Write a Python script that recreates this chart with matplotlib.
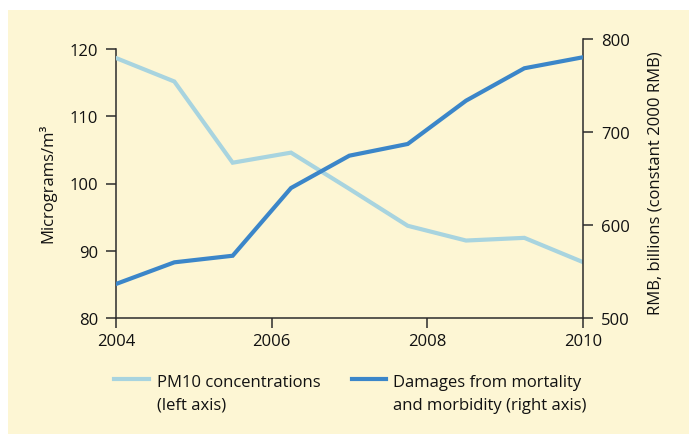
import matplotlib
matplotlib.use("Agg")
import matplotlib.pyplot as plt
from matplotlib.lines import Line2D
from matplotlib.patches import Rectangle

# Data
years = [2004.0, 2004.75, 2005.5, 2006.25, 2007.0, 2007.75, 2008.5, 2009.25, 2010.0]
pm10 = [118.7, 115.2, 103.1, 104.6, 99.2, 93.7, 91.5, 91.9, 88.3]
damages = [536.3, 559.6, 566.7, 639.6, 674.4, 687.0, 733.6, 768.5, 780.3]
x_ticks = [2004, 2006, 2008, 2010]
left_ticks = [80, 90, 100, 110, 120]
right_ticks = [500, 600, 700, 800]
legend_labels = [["PM10 concentrations", "(left axis)"],
                 ["Damages from mortality", "and morbidity (right axis)"]]

W, H = 689, 435
FONT = ["Open Sans", "DejaVu Sans"]
plt.rcParams["font.family"] = FONT
FS = 12
BG = "#FDF6D4"
LIGHT = "#A8D4DF"
DARK = "#3B86C9"
AX = "#2b2b2b"

fig = plt.figure(figsize=(W / 100, H / 100), dpi=100)
fig.patch.set_facecolor("white")
fig.add_artist(Rectangle((8 / W, 0), 1 - 8 / W, 1 - 11 / H, transform=fig.transFigure,
                         facecolor=BG, edgecolor="none", zorder=-10))

left, right_px, bottom_px, top_px = 116, 582.7, 318.7, 40
ax = fig.add_axes([left / W, 1 - bottom_px / H, (right_px - left) / W, (bottom_px - top_px) / H])
ax.patch.set_alpha(0)
ax2 = ax.twinx()
ax2.patch.set_alpha(0)

ax.plot(years, pm10, color=LIGHT, lw=3.0, solid_joinstyle="miter", zorder=3)
ax2.plot(years, damages, color=DARK, lw=3.0, solid_joinstyle="miter", zorder=3)

ax.set_xlim(2004, 2010)
ax.set_ylim(80, 80 + (bottom_px - top_px) / 6.71)
ax2.set_ylim(500, 800)

ax.set_xticks(x_ticks)
ax.set_yticks(left_ticks)
ax2.set_yticks(right_ticks)

for a in (ax, ax2):
    for s in a.spines.values():
        s.set_color(AX)
        s.set_linewidth(1.1)
    a.spines["top"].set_visible(False)
ax.spines["right"].set_visible(False)
ax2.spines["left"].set_visible(False)
ax2.spines["bottom"].set_visible(False)
ax.spines["left"].set_bounds(80, 120)

ax.tick_params(axis="x", direction="out", length=7.2, width=1.1, color=AX, pad=4,
               labelsize=FS, labelcolor="#111111")
ax.tick_params(axis="y", direction="out", length=7.2, width=1.1, color=AX, pad=5.5,
               labelsize=FS, labelcolor="#111111")
ax2.tick_params(axis="y", direction="out", length=7.2, width=1.1, color=AX, pad=6,
                labelsize=FS, labelcolor="#111111")

fig.text(47.5 / W, 1 - 183 / H, "Micrograms/m³", rotation=90, ha="center", va="center",
         fontsize=FS, color="#111111")
fig.text(655 / W, 1 - 183 / H, "RMB, billions (constant 2000 RMB)", rotation=90,
         ha="center", va="center", fontsize=FS, color="#111111")

# Legend
handles = [(114, 149.3, LIGHT, 156.7), (351.7, 386, DARK, 393.3)]
for (x0, x1, c, tx), labs in zip(handles, legend_labels):
    fig.add_artist(Line2D([x0 / W, x1 / W], [1 - 380 / H, 1 - 380 / H],
                          transform=fig.transFigure, color=c, lw=3.0))
    fig.text(tx / W, 1 - 386.7 / H, labs[0], ha="left", va="baseline", fontsize=FS,
             color="#111111")
    fig.text(tx / W, 1 - 409.7 / H, labs[1], ha="left", va="baseline", fontsize=FS,
             color="#111111")

fig.savefig("out.png", dpi=100, facecolor=fig.get_facecolor())
